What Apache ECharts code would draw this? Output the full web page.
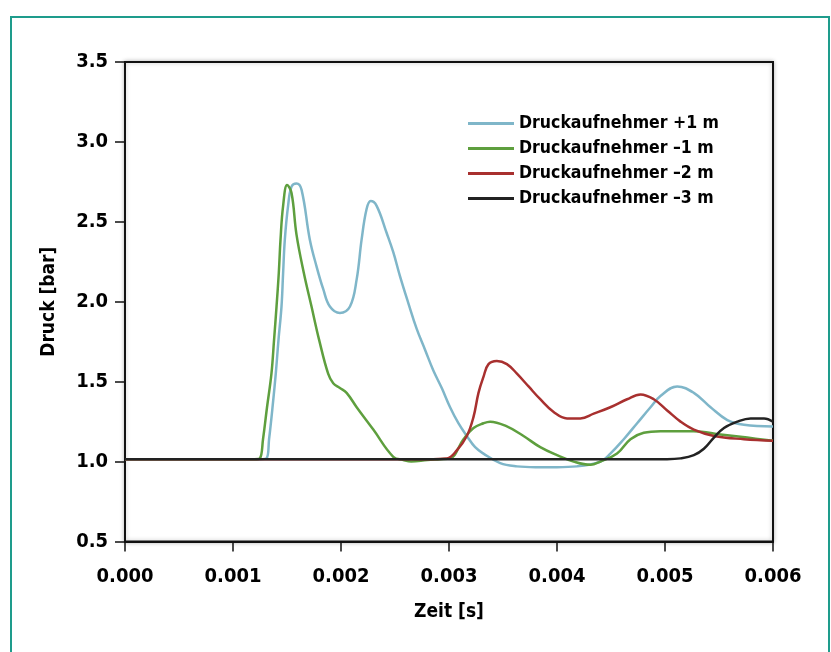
<!DOCTYPE html>
<html>
<head>
<meta charset="utf-8">
<script src="https://cdn.jsdelivr.net/npm/echarts@6/dist/echarts.min.js"></script>
<style>
  html, body { margin: 0; padding: 0; background: #fff; }
  #main { width: 831px; height: 652px; }
</style>
</head>
<body>
<div id="main"></div>
<script>
var seriesNames = ['Druckaufnehmer +1 m', 'Druckaufnehmer \u20131 m', 'Druckaufnehmer \u20132 m', 'Druckaufnehmer \u20133 m'];
var seriesColors = ['#7fb6c9', '#5e9f3e', '#a8302f', '#222222'];

// [Zeit s, Druck bar]
var plus1 = [
  [0, 1.015], [0.00125, 1.015], [0.00131, 1.02], [0.001334, 1.14], [0.001366, 1.34],
  [0.001396, 1.55], [0.001421, 1.76], [0.001449, 1.97], [0.001464, 2.18], [0.00148, 2.39],
  [0.00151, 2.6], [0.001542, 2.72], [0.001588, 2.74], [0.001635, 2.7], [0.001711, 2.39],
  [0.001774, 2.22], [0.001835, 2.08], [0.001897, 1.97], [0.00199, 1.93], [0.002083, 1.97],
  [0.002145, 2.14], [0.002191, 2.39], [0.002237, 2.58], [0.002275, 2.63], [0.00233, 2.6],
  [0.002423, 2.43], [0.002484, 2.31], [0.002546, 2.16], [0.002624, 1.99],
  [0.002701, 1.83], [0.002778, 1.7], [0.002855, 1.57], [0.002933, 1.46], [0.00301, 1.34],
  [0.003087, 1.24], [0.003165, 1.16], [0.003242, 1.09], [0.003319, 1.05], [0.003474, 0.99],
  [0.003629, 0.97], [0.0038, 0.965], [0.004, 0.965], [0.004186, 0.97], [0.004402, 1.0],
  [0.004494, 1.05], [0.004618, 1.14], [0.004742, 1.24], [0.004866, 1.34], [0.004958, 1.41],
  [0.005113, 1.47], [0.005267, 1.43], [0.005422, 1.34], [0.005577, 1.26], [0.005731, 1.23],
  [0.006, 1.22]
];
var minus1 = [
  [0, 1.015], [0.0012, 1.015], [0.001248, 1.02], [0.001278, 1.14], [0.001315, 1.34],
  [0.001356, 1.55], [0.00138, 1.76], [0.001403, 1.97], [0.001424, 2.18], [0.00144, 2.39],
  [0.001464, 2.6], [0.001501, 2.73], [0.001542, 2.68], [0.001588, 2.42], [0.001656, 2.18],
  [0.001727, 1.97], [0.001798, 1.76], [0.001881, 1.55], [0.001928, 1.49], [0.00199, 1.46],
  [0.002052, 1.43], [0.002145, 1.34], [0.002299, 1.2], [0.002484, 1.03], [0.002577, 1.01],
  [0.00265, 1.0], [0.0028, 1.01], [0.00292, 1.015], [0.00301, 1.02], [0.003134, 1.14],
  [0.003227, 1.21], [0.003319, 1.24], [0.003381, 1.25], [0.003536, 1.22], [0.00369, 1.16],
  [0.003845, 1.09], [0.004, 1.04], [0.004154, 1.0], [0.004309, 0.98], [0.004402, 1.0],
  [0.004556, 1.05], [0.00468, 1.14], [0.004803, 1.18], [0.004958, 1.19], [0.005267, 1.19],
  [0.005515, 1.17], [0.005762, 1.15], [0.006, 1.13]
];
var minus2 = [
  [0, 1.015], [0.0028, 1.015], [0.00298, 1.02], [0.003072, 1.07], [0.003165, 1.16],
  [0.003227, 1.28], [0.003273, 1.43], [0.003319, 1.53], [0.003366, 1.61], [0.003443, 1.63],
  [0.003536, 1.61], [0.003629, 1.55], [0.003737, 1.47], [0.003845, 1.39], [0.003969, 1.31],
  [0.004093, 1.27], [0.004216, 1.27], [0.00434, 1.3], [0.004494, 1.34], [0.004649, 1.39],
  [0.004773, 1.42], [0.004896, 1.39], [0.00502, 1.32], [0.005144, 1.25], [0.005267, 1.2],
  [0.005453, 1.16], [0.005731, 1.14], [0.006, 1.13]
];
var minus3 = [
  [0, 1.015], [0.00502, 1.015], [0.005144, 1.02], [0.005267, 1.04], [0.00536, 1.08],
  [0.005453, 1.15], [0.005546, 1.21], [0.00567, 1.25], [0.005793, 1.27], [0.005917, 1.27],
  [0.006, 1.25]
];
var xTicks = { min: 0, max: 0.006, step: 0.001 };
var yTicks = { min: 0.5, max: 3.5, step: 0.5 };

var fontFam = "'DejaVu Sans Condensed', 'Liberation Sans Narrow', sans-serif";

var myChart = echarts.init(document.getElementById('main'));

function makeSeries(i, data) {
  return {
    name: seriesNames[i],
    type: 'line',
    data: data,
    smooth: 0.4,
    symbol: 'none',
    z: 2 + i,
    lineStyle: { color: seriesColors[i], width: 2.5 },
    itemStyle: { color: seriesColors[i] }
  };
}

var option = {
  animation: false,
  backgroundColor: '#fff',
  graphic: [{
    type: 'rect',
    shape: { x: 11, y: 17, width: 818, height: 700 },
    style: { fill: 'none', stroke: '#1e9c8c', lineWidth: 2 },
    silent: true
  }],
  grid: {
    left: 125, right: 58, top: 62, bottom: 110.5,
    show: true,
    borderColor: '#111',
    borderWidth: 2,
    backgroundColor: '#fff',
    shadowColor: 'rgba(0,0,0,0.25)',
    shadowBlur: 4
  },
  legend: {
    orient: 'vertical',
    left: 468,
    top: 111,
    padding: 0,
    icon: 'rect',
    itemWidth: 46,
    itemHeight: 3,
    itemGap: 0,
    data: seriesNames,
    textStyle: { fontFamily: fontFam, fontWeight: 'bold', fontSize: 17.5, color: '#000', lineHeight: 25 }
  },
  xAxis: {
    type: 'value',
    min: xTicks.min,
    max: xTicks.max,
    interval: xTicks.step,
    name: 'Zeit [s]',
    nameLocation: 'middle',
    nameGap: 61,
    nameTextStyle: { fontFamily: fontFam, fontWeight: 'bold', fontSize: 19, color: '#000' },
    axisLine: { lineStyle: { color: '#111', width: 2 } },
    axisTick: { show: true, length: 10, lineStyle: { color: '#111', width: 1.5 } },
    axisLabel: {
      margin: 25,
      fontFamily: fontFam, fontWeight: 'bold', fontSize: 20, color: '#000',
      formatter: function (v) { return v.toFixed(3); }
    },
    splitLine: { show: false }
  },
  yAxis: {
    type: 'value',
    min: yTicks.min,
    max: yTicks.max,
    interval: yTicks.step,
    name: 'Druck [bar]',
    nameLocation: 'middle',
    nameGap: 66,
    nameTextStyle: { fontFamily: fontFam, fontWeight: 'bold', fontSize: 19, color: '#000' },
    axisLine: { show: true, lineStyle: { color: '#111', width: 2 } },
    axisTick: { show: true, length: 10, lineStyle: { color: '#111', width: 1.5 } },
    axisLabel: {
      margin: 17,
      fontFamily: fontFam, fontWeight: 'bold', fontSize: 20, color: '#000',
      formatter: function (v) { return v.toFixed(1); }
    },
    splitLine: { show: false }
  },
  series: [
    makeSeries(0, plus1),
    makeSeries(1, minus1),
    makeSeries(2, minus2),
    makeSeries(3, minus3)
  ]
};
myChart.setOption(option);
</script>
</body>
</html>
